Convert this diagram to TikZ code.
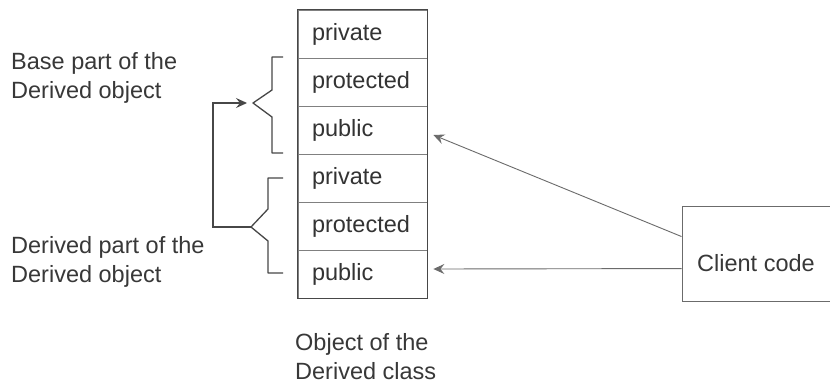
\documentclass[tikz,border=0pt]{standalone}
\usepackage{fontspec}
\setmainfont{Liberation Sans}
\usetikzlibrary{arrows.meta,calc}
\begin{document}
\begin{tikzpicture}[x=1pt,y=-1pt,
  ink/.style={draw=black!72, line width=1.3pt},
  rowbox/.style={draw=black!50, line width=0.8pt, minimum width=129pt, minimum height=48pt, text width=101pt, inner xsep=14pt, align=left, font=\fontsize{23.5}{26}\selectfont, text=black!80},
  lbl/.style={align=left, font=\fontsize{23.5}{29}\selectfont, text=black!78, inner sep=0pt},
  arr/.style={draw=black!58, line width=0.9pt, -{Stealth[length=11pt,width=10pt,inset=4pt]}},
]
\clip (0,0) rectangle (830,386);
\fill[white] (0,0) rectangle (830,386);

% stack of rows
\node[rowbox] (r1) at (362.5,34) {private};
\node[rowbox] (r2) at (362.5,82) {protected};
\node[rowbox] (r3) at (362.5,130) {public};
\node[rowbox] (r4) at (362.5,178) {private};
\node[rowbox] (r5) at (362.5,226) {protected};
\node[rowbox] (r6) at (362.5,274) {public};
\draw[ink] (r1.north west) rectangle (r6.south east);

% braces
\coordinate (ub) at (253,103);
\coordinate (lb) at (251,227);
\draw[ink, line join=round] (283,57) -- (272,57) -- (272,90) -- (ub) -- (272,117) -- (272,153) -- (283,153);
\draw[ink, line join=round] (283,178) -- (268,178) -- (268,209) -- (lb) -- (268,241) -- (268,273) -- (283,273);

% connector between braces
\coordinate (bend) at (213,227);
\coordinate (uin) at (247,103);
\draw[arr, draw=black!72, line width=1.3pt] (lb) -- (bend) |- (uin);

% labels
\node[lbl, anchor=west] (base) at (11,77.5) {Base part of the\\Derived object};
\node[lbl, anchor=west] (der) at (11,262) {Derived part of the\\Derived object};
\node[lbl, anchor=west] (obj) at (295,357) {Object of the\\Derived class};

% client code
\node[draw=black!58, line width=0.9pt, minimum width=180pt, minimum height=95pt] (client) at (772,253.5) {};
\node[lbl, anchor=west] (cc) at (697,263) {Client code};

% access arrows
\draw[arr] ($(client.north west)+(0,31)$) -- ($(r3.east)+(6,5)$);
\draw[arr] ($(client.north west)+(0,63)$) -- ($(r6.east)+(6,-5)$);
\end{tikzpicture}
\end{document}
